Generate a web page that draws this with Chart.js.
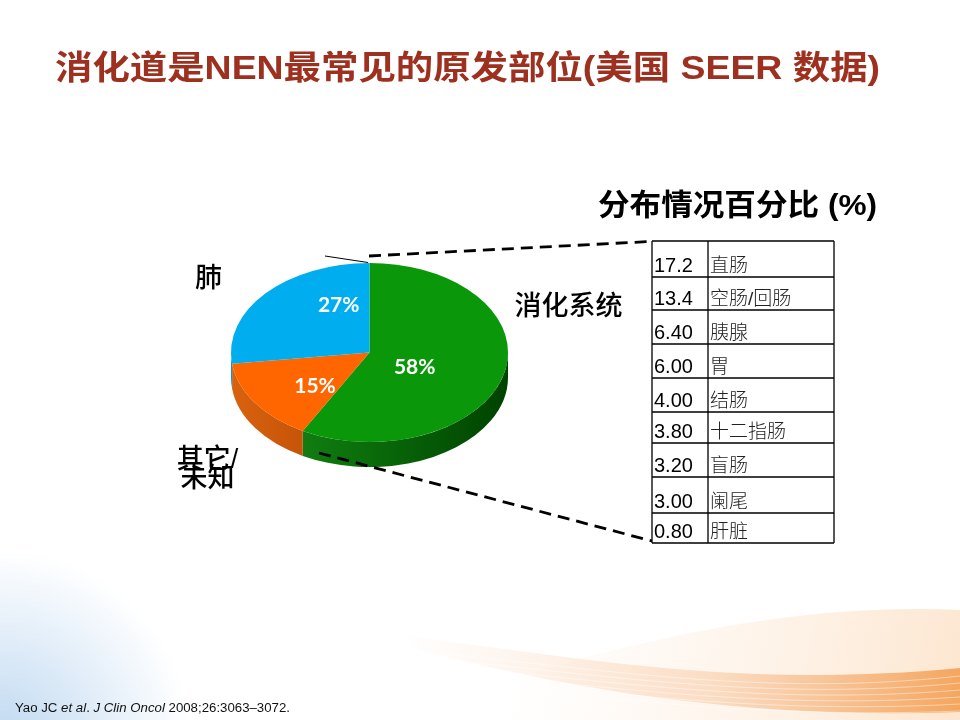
<!DOCTYPE html>
<html>
<head>
<meta charset="utf-8">
<script src="https://cdn.jsdelivr.net/npm/chart.js@4.4.0/dist/chart.umd.min.js"></script>
<style>
  html, body { margin: 0; padding: 0; background: #fff; overflow: hidden; }
  #slide { display: block; }
</style>
</head>
<body>
<canvas id="slide" width="960" height="720"></canvas>
<script>
// data
const pieLabels = ['消化系统', '其它/\n未知', '肺'];
const pieValues = [58, 15, 27];
const siteValues = [17.2, 13.4, 6.40, 6.00, 4.00, 3.80, 3.20, 3.00, 0.80];
const siteNames = ['直肠', '空肠/回肠', '胰腺', '胃', '结肠', '十二指肠', '盲肠', '阑尾', '肝脏'];

const titleText = '消化道是NEN最常见的原发部位(美国 SEER 数据)';
const tableTitle = '分布情况百分比 (%)';

// look + layout
const PIE_CX = 369.5, PIE_CY = 352.5, PIE_R = 138.5, TILT = 0.646, DEPTH = 25;
const topColors = ['#0A980A', '#FF6600', '#00AEEF'];
const sideStops = [
  ['#1A8C1A', '#0B700B', '#004200'],
  ['#D9620F', '#B84A04', '#A03C00'],
  ['#0A95CC', '#0080B8', '#006A9C']
];
const pctPos = [[414.7, 366], [315, 385], [338.7, 304]];
const labelPos = [[568.5, 308], [207.5, 461], [208.5, 280]];
const rowEdges = [241, 277, 310, 344, 378, 412, 443, 477, 513, 543];
const TX0 = 652, TXD = 708, TX1 = 834;
const CJK = '"Noto Sans CJK SC"';
const LAT = '"Liberation Sans"';

function fmt(v) { return v >= 10 ? v.toFixed(1) : v.toFixed(2); }

function fitText(ctx, text, x, y, width) {
  const w = ctx.measureText(text).width;
  ctx.save();
  ctx.translate(x, y);
  ctx.scale(width / w, 1);
  ctx.textAlign = 'left';
  ctx.fillText(text, 0, 0);
  ctx.restore();
}

function drawBackground(ctx) {
  ctx.save();
  ctx.fillStyle = '#fff';
  ctx.fillRect(0, 0, 960, 720);

  // pale blue in the bottom-left corner
  let g = ctx.createRadialGradient(0, 740, 5, 0, 740, 190);
  g.addColorStop(0, 'rgba(130,180,228,0.5)');
  g.addColorStop(1, 'rgba(130,180,228,0)');
  ctx.fillStyle = g;
  ctx.fillRect(0, 540, 200, 180);

  // soft peach wash on the right
  g = ctx.createLinearGradient(520, 600, 960, 700);
  g.addColorStop(0, 'rgba(252,222,196,0)');
  g.addColorStop(1, 'rgba(250,205,160,0.5)');
  ctx.fillStyle = g;
  ctx.beginPath();
  ctx.moveTo(380, 720);
  ctx.bezierCurveTo(560, 660, 760, 600, 960, 610);
  ctx.lineTo(960, 720);
  ctx.closePath();
  ctx.fill();

  // orange band
  g = ctx.createLinearGradient(400, 0, 960, 0);
  g.addColorStop(0, 'rgba(246,175,120,0)');
  g.addColorStop(0.55, 'rgba(246,175,120,0.35)');
  g.addColorStop(1, 'rgba(243,155,75,0.85)');
  ctx.fillStyle = g;
  ctx.beginPath();
  ctx.moveTo(400, 636);
  ctx.bezierCurveTo(570, 655, 730, 690, 960, 668);
  ctx.lineTo(960, 712);
  ctx.bezierCurveTo(760, 720, 570, 692, 400, 644);
  ctx.closePath();
  ctx.fill();

  // faint stripes
  ctx.strokeStyle = 'rgba(255,255,255,0.45)';
  ctx.lineWidth = 1;
  for (let k = 0; k < 6; k++) {
    ctx.beginPath();
    ctx.moveTo(320, 642 + k * 6);
    ctx.bezierCurveTo(570, 662 + k * 6, 740, 700 + k * 4, 960, 676 + k * 7);
    ctx.stroke();
  }
  ctx.restore();
}

function drawHeadings(ctx) {
  ctx.save();
  ctx.textBaseline = 'alphabetic';
  ctx.fillStyle = '#9E3020';
  ctx.font = 'bold 33px ' + LAT + ', ' + CJK;
  fitText(ctx, titleText, 55, 79, 825);

  ctx.fillStyle = '#000';
  ctx.font = 'bold 30px ' + LAT + ', ' + CJK;
  fitText(ctx, tableTitle, 598, 215, 279);

  // citation
  const parts = [['Yao JC ', ''], ['et al', 'italic '], ['. ', ''], ['J Clin Oncol', 'italic '], [' 2008;26:3063\u20133072.', '']];
  ctx.fillStyle = '#111';
  let total = 0;
  parts.forEach(p => { ctx.font = p[1] + '12px ' + LAT; total += ctx.measureText(p[0]).width; });
  const sx = 275 / total;
  ctx.translate(15, 712);
  ctx.scale(sx, 1);
  let x = 0;
  parts.forEach(p => {
    ctx.font = p[1] + '12px ' + LAT;
    ctx.fillText(p[0], x, 0);
    x += ctx.measureText(p[0]).width;
  });
  ctx.restore();
}

function drawSide(ctx, arc, i) {
  const r = arc.outerRadius, s = arc.startAngle, e = arc.endAngle;
  const g = ctx.createLinearGradient(PIE_CX - r, 0, PIE_CX + r, 0);
  g.addColorStop(0, sideStops[i][0]);
  g.addColorStop(0.45, sideStops[i][1]);
  g.addColorStop(1, sideStops[i][2]);
  ctx.fillStyle = g;
  for (let k = -1; k <= 1; k++) {
    const lo = Math.max(s, k * 2 * Math.PI);
    const hi = Math.min(e, k * 2 * Math.PI + Math.PI);
    if (hi <= lo) continue;
    ctx.beginPath();
    ctx.ellipse(PIE_CX, PIE_CY, r, r * TILT, 0, lo, hi, false);
    ctx.ellipse(PIE_CX, PIE_CY + DEPTH, r, r * TILT, 0, hi, lo, true);
    ctx.closePath();
    ctx.fill();
  }
}

function drawLeaders(ctx) {
  ctx.save();
  ctx.strokeStyle = '#000';
  ctx.lineWidth = 1;
  ctx.beginPath();
  ctx.moveTo(325, 256);
  ctx.lineTo(368, 262.5);
  ctx.stroke();

  ctx.lineWidth = 2.8;
  ctx.setLineDash([12, 7]);
  ctx.beginPath();
  ctx.moveTo(369, 256);
  ctx.lineTo(650, 241.5);
  ctx.moveTo(319, 453);
  ctx.lineTo(652, 541);
  ctx.stroke();
  ctx.restore();
}

function drawTable(ctx) {
  ctx.save();
  ctx.strokeStyle = '#000';
  ctx.lineWidth = 1.3;
  ctx.beginPath();
  rowEdges.forEach(y => { ctx.moveTo(TX0, y); ctx.lineTo(TX1, y); });
  const top = rowEdges[0], bot = rowEdges[rowEdges.length - 1];
  [TX0, TXD, TX1].forEach(x => { ctx.moveTo(x, top); ctx.lineTo(x, bot); });
  ctx.stroke();

  ctx.textBaseline = 'alphabetic';
  ctx.textAlign = 'left';
  siteValues.forEach((v, i) => {
    const yb = rowEdges[i + 1];
    ctx.fillStyle = '#000';
    ctx.font = '20px ' + LAT;
    ctx.fillText(fmt(v), 654, yb - 5);
    ctx.fillStyle = '#222';
    ctx.font = '300 19px ' + LAT + ', ' + CJK;
    ctx.fillText(siteNames[i], 710, yb - 5);
  });
  ctx.restore();
}

function drawPieText(ctx) {
  ctx.save();
  ctx.textAlign = 'center';
  ctx.textBaseline = 'middle';
  ctx.fillStyle = '#fff';
  ctx.font = 'bold 21px Lato, "Open Sans", sans-serif';
  pieValues.forEach((v, i) => ctx.fillText(v + '%', pctPos[i][0], pctPos[i][1] + 1));

  ctx.fillStyle = '#000';
  ctx.font = '500 27px ' + LAT + ', ' + CJK;
  pieLabels.forEach((lab, i) => {
    lab.split('\n').forEach((line, j) => {
      ctx.fillText(line, labelPos[i][0], labelPos[i][1] + j * 19);
    });
  });
  ctx.restore();
}

const slidePlugin = {
  id: 'slide',
  beforeDraw(chart) {
    drawBackground(chart.ctx);
    drawHeadings(chart.ctx);
  },
  beforeDatasetsDraw(chart) {
    const ctx = chart.ctx;
    const arcs = chart.getDatasetMeta(0).data;
    arcs.forEach((arc, i) => drawSide(ctx, arc, i));
    ctx.save();
    ctx.translate(PIE_CX, PIE_CY);
    ctx.scale(1, TILT);
    ctx.translate(-arcs[0].x, -arcs[0].y);
  },
  afterDatasetsDraw(chart) {
    const ctx = chart.ctx;
    ctx.restore();
    drawPieText(ctx);
    drawLeaders(ctx);
    drawTable(ctx);
  }
};

new Chart(document.getElementById('slide'), {
  type: 'pie',
  data: {
    labels: pieLabels,
    datasets: [{
      data: pieValues,
      backgroundColor: topColors,
      borderWidth: 0
    }]
  },
  options: {
    responsive: false,
    animation: false,
    radius: PIE_R,
    layout: { padding: 0 },
    plugins: {
      legend: { display: false },
      tooltip: { enabled: false }
    }
  },
  plugins: [slidePlugin]
});
</script>
</body>
</html>
